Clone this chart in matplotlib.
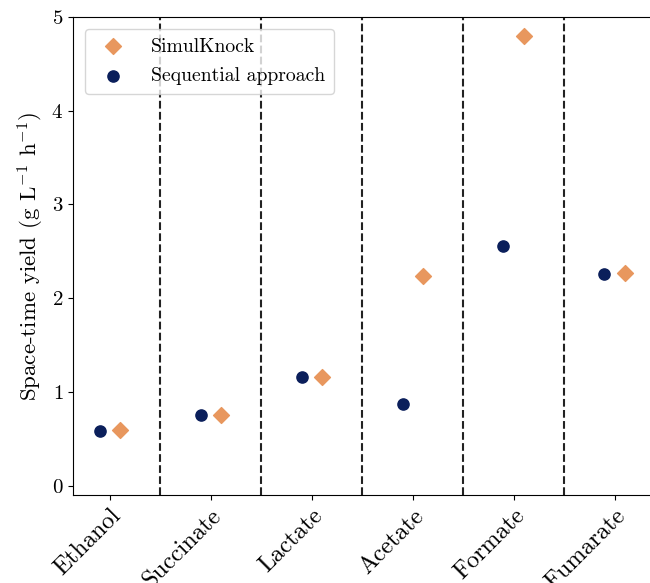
import numpy as np
import matplotlib
matplotlib.use("Agg")
import matplotlib.pyplot as plt

plt.rcParams['font.family'] = 'serif'
plt.rcParams['font.serif'] = ['cmr10']
plt.rcParams['mathtext.fontset'] = 'cm'
plt.rcParams['axes.formatter.use_mathtext'] = True
plt.rcParams['axes.unicode_minus'] = False

products = ["Ethanol", "Succinate", "Lactate", "Acetate", "Formate", "Fumarate"]
simulknock = [0.59, 0.75, 1.16, 2.24, 4.80, 2.27]
sequential = [0.58, 0.75, 1.16, 0.87, 2.56, 2.26]

orange = '#E8975E'
navy = '#0B1F5B'

fig = plt.figure(figsize=(6.5, 5.83), dpi=100)
ax = fig.add_axes([0.1123, 0.151, 0.889, 0.820])

x = np.arange(len(products))
ax.scatter(x + 0.1, simulknock, marker='D', s=65, color=orange, label='SimulKnock', zorder=3)
ax.scatter(x - 0.1, sequential, marker='o', s=65, color=navy, label='Sequential approach', zorder=3)

# separators between products
for b in x[:-1] + 0.5:
    ax.axvline(b, color='#222222', linestyle='--', linewidth=1.5, zorder=1)

ax.set_xlim(-0.365, 5.36)
ax.set_ylim(-0.1, 5)
ax.set_xticks(x)
ax.set_xticklabels(products, rotation=45, ha='right', rotation_mode='anchor', fontsize=17.5)
ax.set_yticks([0, 1, 2, 3, 4, 5])
ax.tick_params(axis='y', labelsize=15)
ax.set_ylabel('Space-time yield (g L$^{-1}$ h$^{-1}$)', fontsize=16.5)
ax.spines['right'].set_visible(False)
ax.legend(loc='upper left', fontsize=14.2, labelspacing=0.6, handletextpad=0.9,
          borderpad=0.45, borderaxespad=0.6)

fig.savefig('out.png', dpi=100)
